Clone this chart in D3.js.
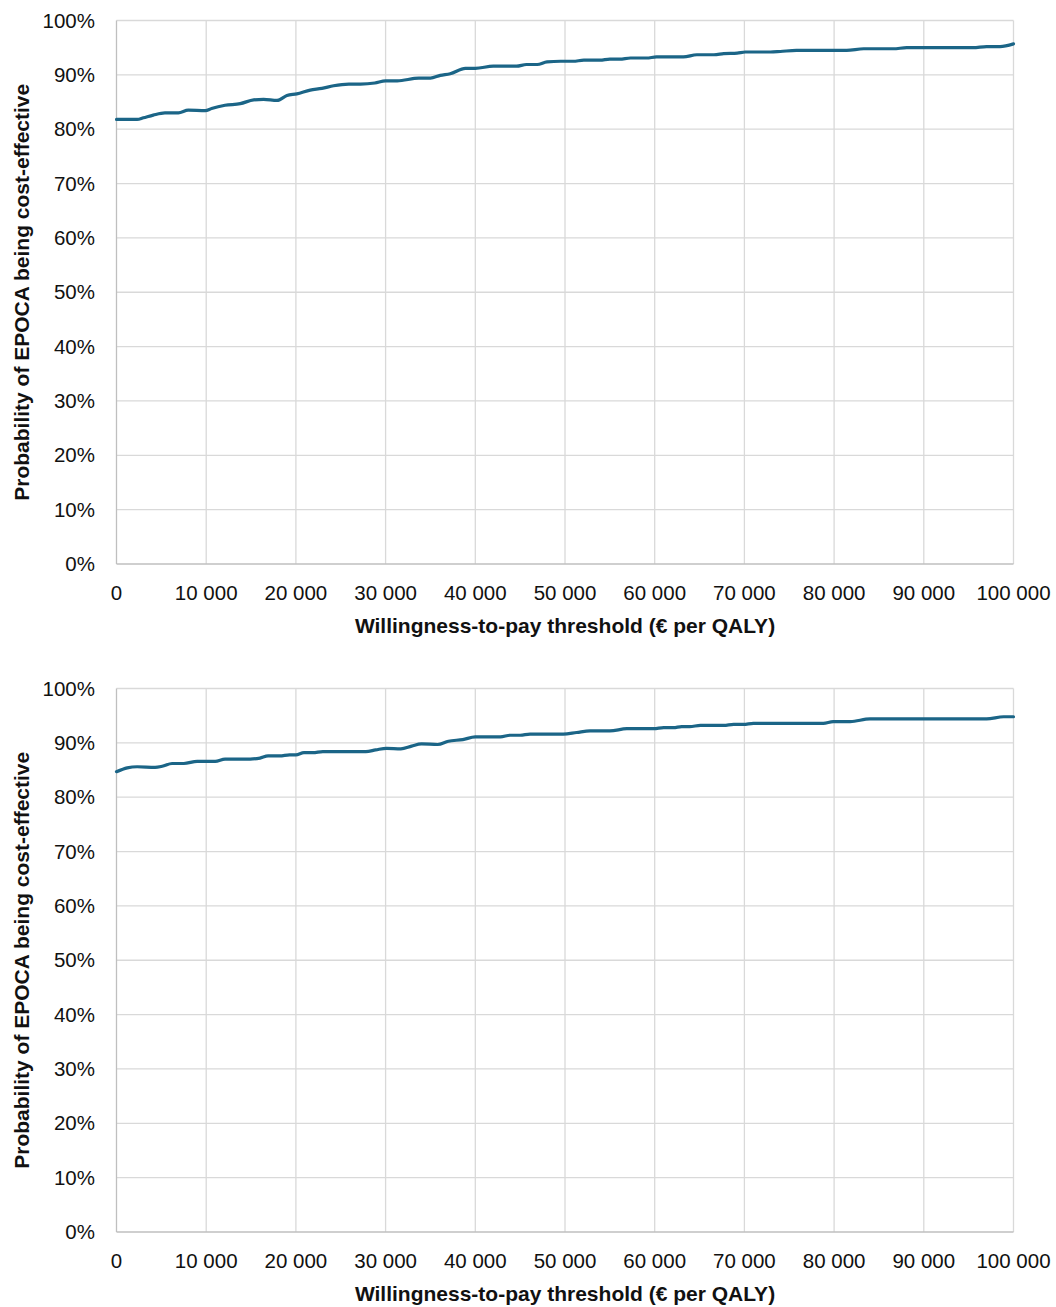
<!DOCTYPE html>
<html>
<head>
<meta charset="utf-8">
<script src="https://cdn.jsdelivr.net/npm/d3@7"></script>
<style>
  html, body { margin: 0; padding: 0; background: #fff; }
  svg text { font-family: "Liberation Sans", Arial, sans-serif; fill: #111; }
</style>
</head>
<body>
<svg id="chart" width="1056" height="1307"></svg>
<script>
// Cost-effectiveness acceptability curves (two scenarios)
const xTicks = [0, 10000, 20000, 30000, 40000, 50000, 60000, 70000, 80000, 90000, 100000];
const yTicks = [0, 0.1, 0.2, 0.3, 0.4, 0.5, 0.6, 0.7, 0.8, 0.9, 1.0];

const xTitle = "Willingness-to-pay threshold (€ per QALY)";
const yTitle = "Probability of EPOCA being cost-effective";

// Scenario 1
const wtpA = [0, 2300, 3000, 4100, 5400, 6900, 8000, 9900, 10600, 12100, 13800, 15300, 16400, 17900,
  19000, 20100, 21600, 22900, 24200, 25900, 27200, 28800, 30000, 31300, 33700, 35000, 36100, 37200,
  38900, 40000, 42000, 44600, 45700, 46900, 48000, 49500, 50900, 52100, 53900, 55000, 56100, 57300,
  59100, 60200, 63200, 64700, 66600, 67700, 69200, 70100, 72900, 74000, 75800, 81400, 83300, 86600,
  88100, 95500, 97000, 98500, 100000];
const probA = [0.818, 0.818, 0.821, 0.826, 0.830, 0.830, 0.835, 0.834, 0.838, 0.844, 0.847, 0.854, 0.855, 0.853,
  0.862, 0.865, 0.872, 0.875, 0.880, 0.883, 0.883, 0.885, 0.889, 0.889, 0.894, 0.894, 0.899, 0.902,
  0.912, 0.912, 0.916, 0.916, 0.919, 0.919, 0.924, 0.925, 0.925, 0.927, 0.927, 0.929, 0.929, 0.931,
  0.931, 0.933, 0.933, 0.937, 0.937, 0.939, 0.940, 0.942, 0.942, 0.943, 0.945, 0.945, 0.948, 0.948,
  0.950, 0.950, 0.952, 0.952, 0.957];

// Scenario 2
const wtpB = [0, 1200, 2300, 4300, 5100, 6200, 7500, 9000, 11000, 12100, 14900, 16000, 16900, 18200,
  19300, 20000, 20900, 21900, 23000, 27800, 28900, 30100, 31700, 32900, 34000, 35800, 37000, 38600,
  40000, 42800, 43900, 45000, 46100, 49800, 51300, 52800, 55000, 56900, 59900, 61000, 62100, 63000,
  63900, 65100, 67700, 68800, 69900, 71000, 78800, 79900, 81800, 84000, 97000, 98900, 100000];
const probB = [0.847, 0.854, 0.856, 0.855, 0.857, 0.862, 0.862, 0.866, 0.866, 0.870, 0.870, 0.872, 0.876, 0.876,
  0.878, 0.878, 0.882, 0.882, 0.884, 0.884, 0.887, 0.890, 0.889, 0.894, 0.898, 0.897, 0.903, 0.906,
  0.911, 0.911, 0.914, 0.914, 0.916, 0.916, 0.919, 0.922, 0.922, 0.926, 0.926, 0.928, 0.928, 0.930,
  0.930, 0.932, 0.932, 0.934, 0.934, 0.936, 0.936, 0.939, 0.939, 0.944, 0.944, 0.948, 0.948];

const svg = d3.select("#chart");
const fmtX = d => d === 0 ? "0" : d3.format(",")(d).replace(/,/g, " ");
const fmtY = d3.format(".0%");

function drawPanel(top, xs, ys) {
  const left = 116.5, right = 1013.5, plotTop = top, plotBottom = top + 543.5;
  const x = d3.scaleLinear().domain([0, 100000]).range([left, right]);
  const y = d3.scaleLinear().domain([0, 1]).range([plotBottom, plotTop]);
  const g = svg.append("g");

  // horizontal gridlines
  g.append("g").selectAll("line").data(yTicks.filter(d => d > 0)).join("line")
    .attr("x1", left).attr("x2", right)
    .attr("y1", d => y(d)).attr("y2", d => y(d))
    .attr("stroke", "#d9d9d9").attr("stroke-width", 1.3);
  // vertical gridlines
  g.append("g").selectAll("line").data(xTicks.filter(d => d > 0)).join("line")
    .attr("x1", d => x(d)).attr("x2", d => x(d))
    .attr("y1", plotTop).attr("y2", plotBottom)
    .attr("stroke", "#d9d9d9").attr("stroke-width", 1.3);
  // axis lines
  g.append("line").attr("x1", left).attr("x2", left).attr("y1", plotTop).attr("y2", plotBottom)
    .attr("stroke", "#bfbfbf").attr("stroke-width", 1.3);
  g.append("line").attr("x1", left).attr("x2", right).attr("y1", plotBottom).attr("y2", plotBottom)
    .attr("stroke", "#bfbfbf").attr("stroke-width", 1.3);

  // y tick labels
  g.append("g").selectAll("text").data(yTicks).join("text")
    .attr("x", 95).attr("y", d => y(d)).attr("dy", "0.35em")
    .attr("text-anchor", "end").attr("font-size", 20.5)
    .text(fmtY);
  // x tick labels
  g.append("g").selectAll("text").data(xTicks).join("text")
    .attr("x", d => x(d)).attr("y", plotBottom + 29).attr("dy", "0.35em")
    .attr("text-anchor", "middle").attr("font-size", 20.5)
    .text(fmtX);

  // axis titles
  g.append("text")
    .attr("x", (left + right) / 2).attr("y", plotBottom + 62).attr("dy", "0.35em")
    .attr("text-anchor", "middle").attr("font-size", 21).attr("font-weight", "bold")
    .text(xTitle);
  g.append("text")
    .attr("transform", `translate(22,${(plotTop + plotBottom) / 2}) rotate(-90)`)
    .attr("dy", "0.35em")
    .attr("text-anchor", "middle").attr("font-size", 21).attr("font-weight", "bold")
    .text(yTitle);

  // curve
  const data = xs.map((v, i) => [v, ys[i]]);
  g.append("path").datum(data)
    .attr("fill", "none").attr("stroke", "#1b6587").attr("stroke-width", 3.2)
    .attr("stroke-linejoin", "round").attr("stroke-linecap", "round")
    .attr("d", d3.line().x(d => x(d[0])).y(d => y(d[1])).curve(d3.curveMonotoneX));
}

drawPanel(20.5, wtpA, probA);
drawPanel(688.5, wtpB, probB);
</script>
</body>
</html>
